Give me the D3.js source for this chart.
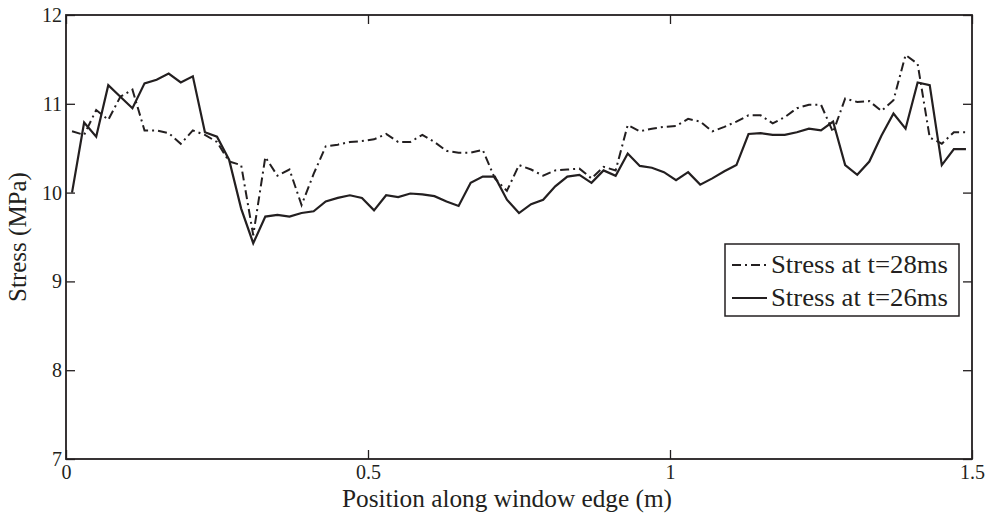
<!DOCTYPE html>
<html>
<head>
<meta charset="utf-8">
<script src="https://cdn.jsdelivr.net/npm/d3@7"></script>
<style>
  html, body { margin: 0; padding: 0; background: #fff; }
  svg { display: block; }
  svg text { font-family: "Liberation Serif", "Times New Roman", Times, "DejaVu Serif", serif; }
</style>
</head>
<body>
<svg id="chart" width="990" height="517"></svg>
<script>
// Sample positions along the window edge (m)
const positions = d3.range(75).map(i => +(0.01 + 0.02 * i).toFixed(2));

// Stress at t = 28 ms (MPa)
const stress28 = [
  10.69, 10.65, 10.93, 10.82, 11.08, 11.16, 10.70, 10.70, 10.67, 10.55,
  10.70, 10.65, 10.57, 10.35, 10.31, 9.52, 10.40, 10.19, 10.26, 9.86,
  10.21, 10.52, 10.54, 10.57, 10.58, 10.60, 10.66, 10.57, 10.57, 10.65,
  10.57, 10.47, 10.45, 10.45, 10.48, 10.16, 10.02, 10.31, 10.26, 10.19,
  10.25, 10.26, 10.27, 10.16, 10.29, 10.25, 10.76, 10.69, 10.72, 10.74,
  10.75, 10.83, 10.80, 10.69, 10.74, 10.80, 10.87, 10.87, 10.78, 10.85,
  10.95, 10.99, 10.99, 10.68, 11.06, 11.02, 11.03, 10.92, 11.04, 11.55,
  11.45, 10.62, 10.55, 10.68, 10.68
];

// Stress at t = 26 ms (MPa)
const stress26 = [
  10.00, 10.79, 10.63, 11.21, 11.08, 10.95, 11.23, 11.27, 11.34, 11.24,
  11.31, 10.68, 10.63, 10.37, 9.82, 9.43, 9.73, 9.75, 9.73, 9.77,
  9.79, 9.90, 9.94, 9.97, 9.94, 9.80, 9.97, 9.95, 9.99, 9.98,
  9.96, 9.90, 9.85, 10.11, 10.18, 10.18, 9.92, 9.77, 9.87, 9.92,
  10.07, 10.18, 10.20, 10.11, 10.25, 10.19, 10.44, 10.30, 10.28, 10.23,
  10.14, 10.23, 10.09, 10.16, 10.24, 10.31, 10.66, 10.67, 10.65, 10.65,
  10.68, 10.72, 10.70, 10.80, 10.31, 10.20, 10.35, 10.64, 10.89, 10.72,
  11.24, 11.21, 10.31, 10.49, 10.49
];

const xTicks = [0, 0.5, 1, 1.5];
const xTickLabels = ["0", "0.5", "1", "1.5"];
const yTicks = [7, 8, 9, 10, 11, 12];
const seriesNames = ["Stress at t=28ms", "Stress at t=26ms"];
const xTitle = "Position along window edge (m)";
const yTitle = "Stress (MPa)";

const ink = "#231f20";
const serif = '"Liberation Serif", "Times New Roman", Times, "DejaVu Serif", serif';
const margin = { left: 66, right: 18, top: 15, bottom: 58 };
const W = 990, H = 517;
const plotW = W - margin.left - margin.right;
const plotH = H - margin.top - margin.bottom;

const svg = d3.select("#chart");
const g = svg.append("g").attr("transform", `translate(${margin.left},${margin.top})`);

const x = d3.scaleLinear().domain([0, 1.5]).range([0, plotW]);
const y = d3.scaleLinear().domain([7, 12]).range([plotH, 0]);

// Axes with inward ticks on all four sides
const tickLen = 9;
const xAxisB = d3.axisBottom(x).tickValues(xTicks).tickFormat((d, i) => xTickLabels[i])
  .tickSizeInner(-tickLen).tickSizeOuter(0).tickPadding(6);
const xAxisT = d3.axisTop(x).tickValues(xTicks).tickFormat("").tickSizeInner(-tickLen).tickSizeOuter(0);
const yAxisL = d3.axisLeft(y).tickValues(yTicks).tickFormat(d3.format("d"))
  .tickSizeInner(-tickLen).tickSizeOuter(0).tickPadding(4);
const yAxisR = d3.axisRight(y).tickValues(yTicks).tickFormat("").tickSizeInner(-tickLen).tickSizeOuter(0);

function styleAxis(sel) {
  sel.attr("font-family", serif);
  sel.select(".domain").remove();
  sel.selectAll(".tick line").attr("stroke", ink).attr("stroke-width", 1.3);
  sel.selectAll(".tick text").attr("font-size", 20).attr("fill", ink);
}

g.append("g").attr("transform", `translate(0,${plotH})`).call(xAxisB).call(styleAxis);
g.append("g").call(xAxisT).call(styleAxis);
g.append("g").call(yAxisL).call(styleAxis);
g.append("g").attr("transform", `translate(${plotW},0)`).call(yAxisR).call(styleAxis);

// Plot frame
g.append("rect")
  .attr("x", 0).attr("y", 0).attr("width", plotW).attr("height", plotH)
  .attr("fill", "none").attr("stroke", ink).attr("stroke-width", 1.8);

// Series lines
const line = d3.line().x((d, i) => x(positions[i])).y(d => y(d));
const dashDot = "9,4,2,4";

g.append("path").datum(stress28)
  .attr("d", line).attr("fill", "none").attr("stroke", ink)
  .attr("stroke-width", 2).attr("stroke-dasharray", dashDot);

g.append("path").datum(stress26)
  .attr("d", line).attr("fill", "none").attr("stroke", ink)
  .attr("stroke-width", 2.2).attr("stroke-linejoin", "miter");

// Axis titles
svg.append("text")
  .attr("x", 507).attr("y", 507)
  .attr("text-anchor", "middle").attr("font-size", 24.5)
  .attr("font-family", serif).attr("fill", ink)
  .attr("textLength", 330).attr("lengthAdjust", "spacingAndGlyphs")
  .text(xTitle);

svg.append("text")
  .attr("transform", `translate(26,${margin.top + plotH / 2}) rotate(-90)`)
  .attr("text-anchor", "middle").attr("font-size", 25)
  .attr("font-family", serif).attr("fill", ink)
  .text(yTitle);

// Legend
const lg = svg.append("g").attr("transform", "translate(725,244)");
lg.append("rect").attr("x", 0).attr("y", 0).attr("width", 234).attr("height", 72)
  .attr("fill", "#fff").attr("stroke", ink).attr("stroke-width", 1.5);
const legendStyles = [dashDot, null];
seriesNames.forEach((name, i) => {
  const cy = 21 + i * 33;
  lg.append("line").attr("x1", 7).attr("x2", 42).attr("y1", cy).attr("y2", cy)
    .attr("stroke", ink).attr("stroke-width", 2)
    .attr("stroke-dasharray", legendStyles[i]);
  lg.append("text").attr("x", 46).attr("y", cy + 8)
    .attr("font-size", 25).attr("font-family", serif).attr("fill", ink)
    .attr("textLength", 177).attr("lengthAdjust", "spacingAndGlyphs")
    .text(name);
});
</script>
</body>
</html>
